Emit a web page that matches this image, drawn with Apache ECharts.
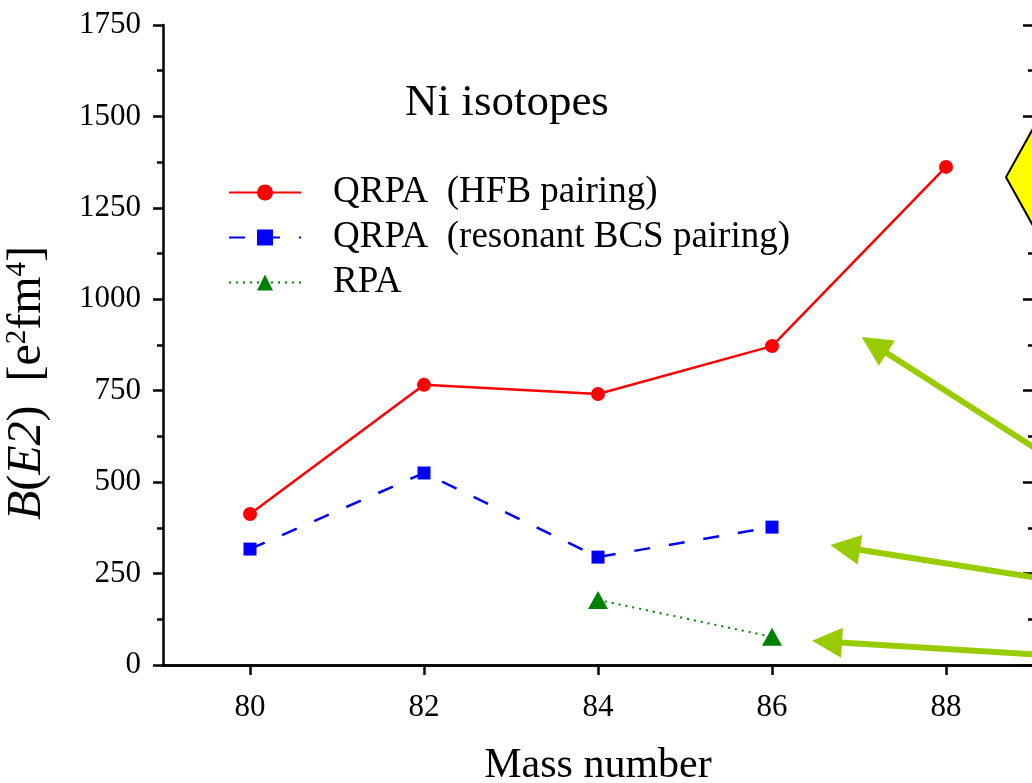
<!DOCTYPE html>
<html><head><meta charset="utf-8">
<script src="https://cdn.jsdelivr.net/npm/echarts@6/dist/echarts.min.js"></script>
<style>html,body{margin:0;padding:0;background:#fff}#c{width:1032px;height:783px}</style>
</head><body><div id="c"></div>
<script>
// ---- data ----
const massNumbers = [80, 82, 84, 86, 88];
const hfbValues = [413, 766, 741, 872, 1362];
const bcsMass = [80, 82, 84, 86];
const bcsValues = [317, 525, 295, 377];
const rpaMass = [84, 86];
const rpaValues = [178, 77];
const xTicks = [80, 82, 84, 86, 88];
const seriesNames = ['QRPA  (HFB pairing)', 'QRPA  (resonant BCS pairing)', 'RPA'];
const plotTitle = 'Ni isotopes';
const xTitle = 'Mass number';
// annotation arrows (data coordinates: tip, tail)
const arrowTips = [[87.03, 897], [86.67, 328], [86.46, 66]];
const arrowTails = [[89.14, 575], [89.14, 235], [89.14, 27]];
const diamondVertex = [88.69, 1334];

const FF = '"Liberation Serif","Times New Roman",serif';
const pairs = (xs, ys) => xs.map((x, i) => [x, ys[i]]);

const chart = echarts.init(document.getElementById('c'), null, {renderer: 'canvas'});
const axisLine = {show: true, lineStyle: {color: '#000', width: 2.5}};
const option = {
  backgroundColor: '#fff',
  animation: false,
  grid: {left: 163, top: 25, width: 870, height: 640, containLabel: false, outerBoundsMode: 'none'},
  title: {
    text: plotTitle, left: 506, top: 76, textAlign: 'center',
    textStyle: {fontFamily: FF, fontWeight: 'normal', fontSize: 45, color: '#000'}
  },
  legend: {
    orient: 'vertical', left: 228, top: 174, padding: 0, itemWidth: 72, itemHeight: 20, itemGap: 8,
    data: seriesNames,
    textStyle: {fontFamily: FF, fontSize: 37, color: '#000', padding: [0, 0, 0, 27]}
  },
  xAxis: [{
    type: 'value', min: 79, max: 89, position: 'bottom',
    name: xTitle, nameLocation: 'middle', nameGap: 80,
    nameTextStyle: {fontFamily: FF, fontSize: 42, color: '#000'},
    axisLine: axisLine,
    axisTick: {show: true, inside: false, length: 10, lineStyle: {width: 2.5, color: '#000'}, customValues: xTicks},
    axisLabel: {show: true, customValues: xTicks, margin: 27, fontFamily: FF, fontSize: 31, color: '#000'},
    splitLine: {show: false}
  }, {
    type: 'value', min: 79, max: 89, position: 'top',
    axisLine: axisLine,
    axisTick: {show: true, inside: true, length: 10, lineStyle: {width: 2.5, color: '#000'}, customValues: xTicks},
    axisLabel: {show: false},
    splitLine: {show: false}
  }],
  yAxis: [{
    type: 'value', min: 0, max: 1750, interval: 250, position: 'left',
    name: '{i|B}{r|(}{i|E2}{r|)  [e}{s|2}{r|fm}{s|4}{r|]}',
    nameLocation: 'middle', nameRotate: 90, nameGap: 112,
    nameTextStyle: {
      color: '#000', padding: [0, 76, 0, 0],
      rich: {
        i: {fontFamily: FF, fontStyle: 'italic', fontSize: 48, color: '#000'},
        r: {fontFamily: FF, fontSize: 48, color: '#000'},
        s: {fontFamily: FF, fontSize: 29, color: '#000', verticalAlign: 'top'}
      }
    },
    axisLine: axisLine,
    axisTick: {show: true, inside: false, length: 10, lineStyle: {width: 2.5, color: '#000'}},
    minorTick: {show: true, splitNumber: 2, length: 6, lineStyle: {width: 2.5, color: '#000'}},
    axisLabel: {margin: 22, fontFamily: FF, fontSize: 31, color: '#000', formatter: v => String(v)},
    splitLine: {show: false}
  }, {
    type: 'value', min: 0, max: 1750, interval: 250, position: 'right',
    axisLine: axisLine,
    axisTick: {show: true, inside: true, length: 10, lineStyle: {width: 2.5, color: '#000'}},
    minorTick: {show: true, splitNumber: 2, length: 5, lineStyle: {width: 2.5, color: '#000'}},
    axisLabel: {show: false},
    splitLine: {show: false}
  }],
  series: [{
    name: seriesNames[0], type: 'line', data: pairs(massNumbers, hfbValues),
    symbol: 'circle', symbolSize: 14, color: '#ff0000',
    lineStyle: {color: '#ff0000', width: 2.5}, itemStyle: {color: '#ff0000'}
  }, {
    name: seriesNames[1], type: 'line', data: pairs(bcsMass, bcsValues),
    symbol: 'rect', symbolSize: 13, color: '#0000ff',
    lineStyle: {color: '#0000ff', width: 2.5, type: [16, 19]}, itemStyle: {color: '#0000ff'}
  }, {
    name: seriesNames[2], type: 'line', data: pairs(rpaMass, rpaValues),
    symbol: 'triangle', symbolSize: [20, 18], color: '#008000',
    lineStyle: {color: '#008000', width: 2, type: [2, 5]}, itemStyle: {color: '#008000'}
  }]
};
option.title.left = 502;
chart.setOption(option);

// annotations: arrows and yellow diamond, positioned from data coordinates
function px(p) { return chart.convertToPixel({gridIndex: 0}, p); }
const els = [];
const headLen = 30, headHalf = 15;
arrowTips.forEach((t, i) => {
  const tip = px(t), tail = px(arrowTails[i]);
  const dx = tip[0] - tail[0], dy = tip[1] - tail[1];
  const L = Math.hypot(dx, dy), ux = dx / L, uy = dy / L;
  const base = [tip[0] - ux * headLen, tip[1] - uy * headLen];
  els.push({type: 'line', z: 100, shape: {x1: tail[0], y1: tail[1], x2: base[0] + ux * 2, y2: base[1] + uy * 2},
    style: {stroke: '#99cc00', lineWidth: 6}});
  els.push({type: 'polygon', z: 100, shape: {points: [tip,
    [base[0] - uy * headHalf, base[1] + ux * headHalf],
    [base[0] + uy * headHalf, base[1] - ux * headHalf]]},
    style: {fill: '#99cc00'}});
});
const dv = px(diamondVertex);
els.push({type: 'polygon', z: 100, shape: {points: [dv, [dv[0] + 60, dv[1] - 108], [dv[0] + 120, dv[1]], [dv[0] + 60, dv[1] + 108]]},
  style: {fill: '#ffff00', stroke: '#000', lineWidth: 2}});
chart.setOption({graphic: {elements: els}});
</script></body></html>
